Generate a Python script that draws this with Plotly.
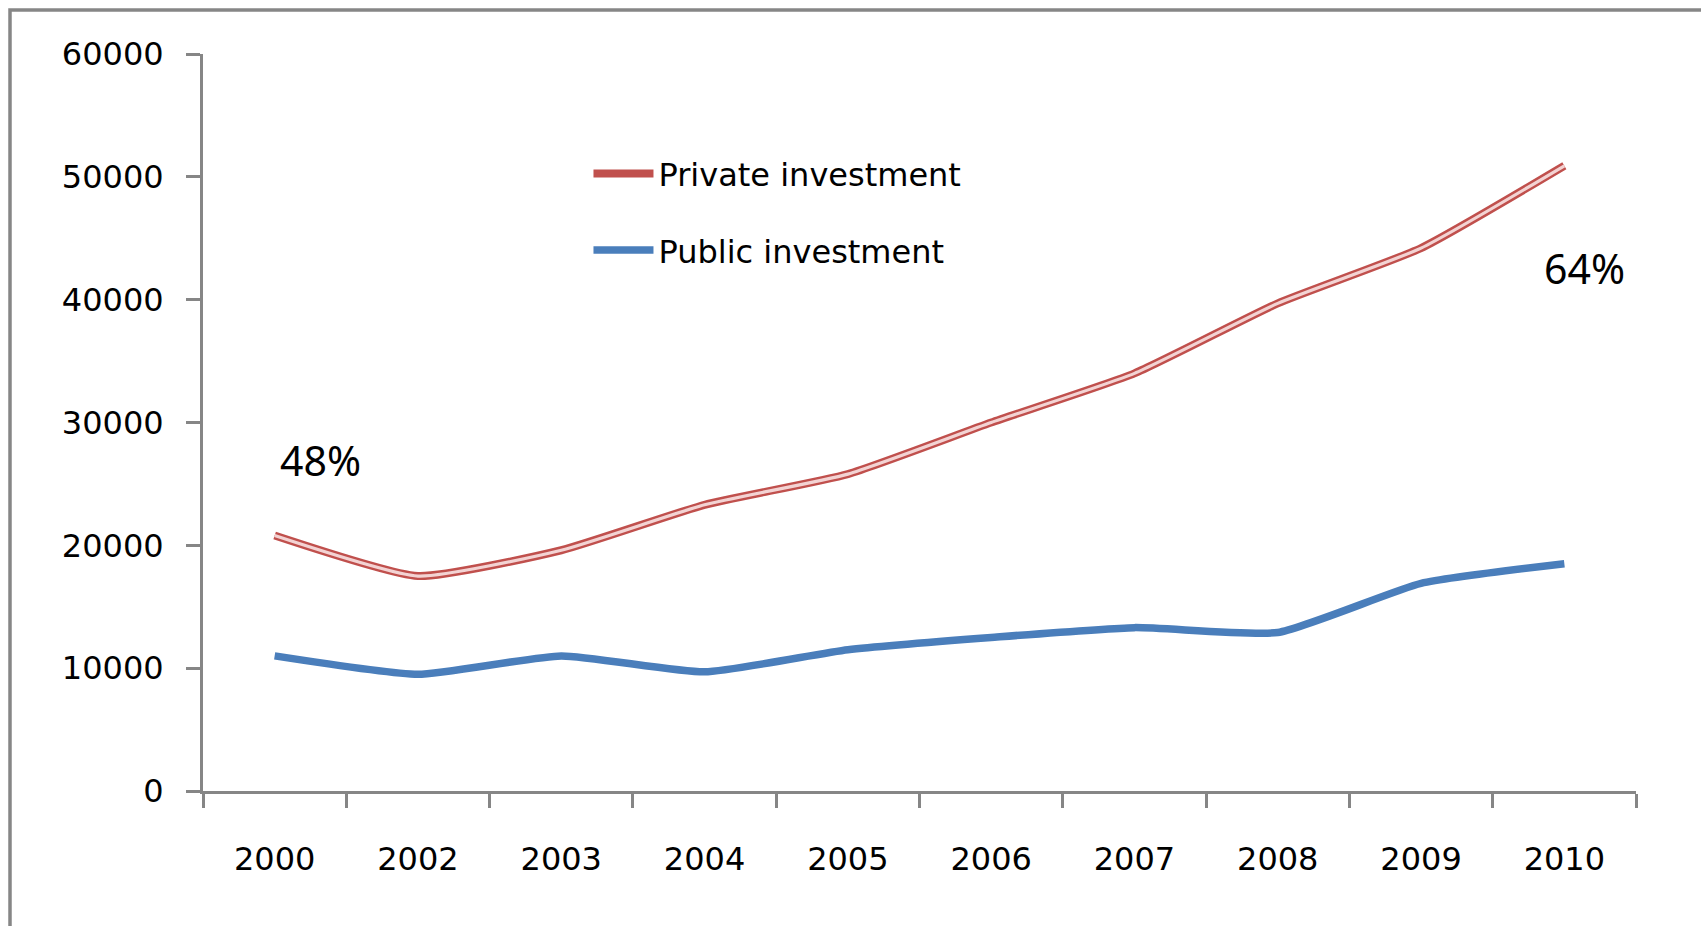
import plotly.graph_objects as go

years = ["2000", "2002", "2003", "2004", "2005", "2006", "2007", "2008", "2009", "2010"]
private_inv = [20800, 17500, 19600, 23300, 25800, 30000, 34000, 39700, 44200, 50900]
public_inv = [11000, 9500, 11000, 9700, 11500, 12500, 13300, 12900, 16900, 18500]
y_ticks = [0, 10000, 20000, 30000, 40000, 50000, 60000]
notes = [("48%", 0.0823, 0.449), ("64%", 0.9644, 0.7096)]

W, H = 1701, 926
L, R, T, B = 203, 65, 54, 135
pw, ph = W - L - R, H - T - B

def px2paper(x, y):
    return (x - L) / pw, (H - B - y) / ph

AX = "#868686"
FONT = "DejaVu Sans"

fig = go.Figure()
fig.add_trace(go.Scatter(
    x=years, y=private_inv, mode="lines", name="Private investment",
    line=dict(color="#C0504D", width=8, shape="spline", smoothing=0.5),
    legendgroup="a"))
fig.add_trace(go.Scatter(
    x=years, y=private_inv, mode="lines", name="Private investment",
    line=dict(color="#F3D3D3", width=3.2, shape="spline", smoothing=0.5),
    legendgroup="a", showlegend=False, hoverinfo="skip"))
fig.add_trace(go.Scatter(
    x=years, y=public_inv, mode="lines", name="Public investment",
    line=dict(color="#4A7EBB", width=7.5, shape="spline", smoothing=0.5),
    legendgroup="b"))

for txt, xp, yp in notes:
    fig.add_annotation(text=txt, x=xp, y=yp, xref="paper", yref="paper",
                       showarrow=False, xanchor="center", yanchor="middle",
                       font=dict(family="Noto Sans", size=41, color="#000000"))

x0, y0 = px2paper(10, 930)
x1, y1 = px2paper(10, 10)
x2, _ = px2paper(1710, 10)
fig.add_shape(type="path", xref="paper", yref="paper",
              path=f"M {x0},{y0} L {x1},{y1} L {x2},{y1}",
              line=dict(color=AX, width=3.5))

fig.update_layout(
    width=W, height=H,
    margin=dict(l=L, r=R, t=T, b=B),
    paper_bgcolor="white", plot_bgcolor="white",
    font=dict(family=FONT, size=32, color="#000000"),
    showlegend=True,
    legend=dict(x=0.269, y=0.875, xanchor="left", yanchor="top",
                bgcolor="rgba(0,0,0,0)", traceorder="grouped",
                tracegroupgap=32, itemwidth=60,
                font=dict(family=FONT, size=32, color="#000000")),
)
fig.update_xaxes(
    type="category", range=[-0.5, 9.5], showgrid=False, zeroline=False,
    showline=True, linecolor=AX, linewidth=3,
    ticks="outside", tickson="boundaries", ticklen=14, tickwidth=3, tickcolor=AX,
    ticklabelstandoff=38, tickfont=dict(family=FONT, size=32, color="#000000"))
fig.update_yaxes(
    range=[0, 60000], tickvals=y_ticks, ticktext=[str(v) for v in y_ticks],
    showgrid=False, zeroline=False,
    showline=True, linecolor=AX, linewidth=3,
    ticks="outside", ticklen=14, tickwidth=3, tickcolor=AX,
    ticklabelstandoff=16, tickfont=dict(family=FONT, size=32, color="#000000"))

fig.write_html("out.html")
